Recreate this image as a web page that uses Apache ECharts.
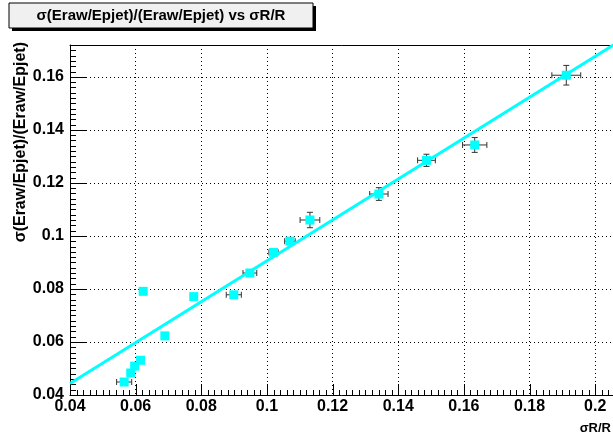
<!DOCTYPE html>
<html>
<head>
<meta charset="utf-8">
<script src="https://cdn.jsdelivr.net/npm/echarts@6/dist/echarts.min.js"></script>
<style>
html,body{margin:0;padding:0;background:#fff;}
#c{width:613px;height:441px;}
</style>
</head>
<body>
<div id="c"></div>
<script>
// Data
const xVals = [0.0565, 0.0585, 0.0597, 0.0615, 0.0623, 0.0689, 0.0777, 0.0899, 0.0948, 0.1020, 0.1070, 0.1131, 0.1341, 0.1486, 0.1633, 0.1912];
const yVals = [0.0449, 0.0483, 0.0509, 0.0531, 0.0791, 0.0623, 0.0771, 0.0778, 0.0860, 0.0938, 0.0980, 0.1060, 0.1158, 0.1285, 0.1343, 0.1606];
const xErrs = [0.0023, 0.0008, 0.0008, 0.0008, 0.0008, 0.0008, 0.0010, 0.0023, 0.0021, 0.0014, 0.0016, 0.0030, 0.0028, 0.0027, 0.0037, 0.0044];
const yErrs = [0.0004, 0.0004, 0.0004, 0.0004, 0.0004, 0.0004, 0.0006, 0.0012, 0.0010, 0.0010, 0.0010, 0.0029, 0.0024, 0.0023, 0.0028, 0.0037];
const fitX = [0.04, 0.21];
const fitY = [0.0443, 0.1754];
// Axis ticks
const xMajorTicks = [0.04, 0.06, 0.08, 0.10, 0.12, 0.14, 0.16, 0.18, 0.20];
const yMajorTicks = [0.04, 0.06, 0.08, 0.10, 0.12, 0.14, 0.16];
const minorStep = 0.002;
const titleText = 'σ(Eraw/Epjet)/(Eraw/Epjet) vs σR/R';
const xTitle = 'σR/R';
const yTitle = 'σ(Eraw/Epjet)/(Eraw/Epjet)';

const X_MIN = 0.04, X_MAX = 0.21, Y_MIN = 0.04, Y_MAX = 0.172;

const points = xVals.map((x, i) => [x, yVals[i]]);
const errData = xVals.map((x, i) => [x, yVals[i], xErrs[i], yErrs[i]]);
const fitData = fitX.map((x, i) => [x, fitY[i]]);

// tick data: [value, axis(0=x,1=y), major(1)/minor(0)]
const tickData = [];
xMajorTicks.forEach(v => tickData.push([v, 0, 1]));
yMajorTicks.forEach(v => tickData.push([v, 1, 1]));
for (let k = 0; X_MIN + k * minorStep < X_MAX - 1e-9; k++) if (k % 10) tickData.push([+(X_MIN + k * minorStep).toFixed(4), 0, 0]);
for (let k = 0; Y_MIN + k * minorStep < Y_MAX - 1e-9; k++) if (k % 10) tickData.push([+(Y_MIN + k * minorStep).toFixed(4), 1, 0]);

const chart = echarts.init(document.getElementById('c'));
const FONT = 'Liberation Sans, Arial, sans-serif';

function renderErr(params, api) {
  const x = api.value(0), y = api.value(1), ex = api.value(2), ey = api.value(3);
  const l = api.coord([x - ex, y]), r = api.coord([x + ex, y]);
  const t = api.coord([x, y + ey]), b = api.coord([x, y - ey]);
  const cap = 3;
  const st = {stroke: '#333', lineWidth: 1};
  return {
    type: 'group',
    children: [
      {type: 'line', shape: {x1: l[0], y1: l[1], x2: r[0], y2: r[1]}, style: st},
      {type: 'line', shape: {x1: l[0], y1: l[1] - cap, x2: l[0], y2: l[1] + cap}, style: st},
      {type: 'line', shape: {x1: r[0], y1: r[1] - cap, x2: r[0], y2: r[1] + cap}, style: st},
      {type: 'line', shape: {x1: t[0], y1: t[1], x2: b[0], y2: b[1]}, style: st},
      {type: 'line', shape: {x1: t[0] - cap, y1: t[1], x2: t[0] + cap, y2: t[1]}, style: st},
      {type: 'line', shape: {x1: b[0] - cap, y1: b[1], x2: b[0] + cap, y2: b[1]}, style: st}
    ]
  };
}

function renderTick(params, api) {
  const v = api.value(0), axis = api.value(1), major = api.value(2);
  const st = {stroke: '#000', lineWidth: 1};
  if (axis === 0) {
    const p = api.coord([v, Y_MIN]);
    const len = major ? 11 : 5;
    const xx = Math.round(p[0]) + 0.5;
    return {type: 'line', shape: {x1: xx, y1: p[1], x2: xx, y2: p[1] - len}, style: st};
  } else {
    const p = api.coord([X_MIN, v]);
    const len = major ? 16 : 6;
    const yy = Math.round(p[1]) + 0.5;
    return {type: 'line', shape: {x1: p[0], y1: yy, x2: p[0] + len, y2: yy}, style: st};
  }
}

chart.setOption({
  animation: false,
  grid: {left: 70, top: 45, width: 558, height: 350, show: false, outerBoundsMode: 'none'},
  xAxis: [{
    type: 'value', min: X_MIN, max: X_MAX, interval: 0.02,
    axisLine: {show: true, lineStyle: {color: '#000', width: 1}},
    axisTick: {show: false},
    splitLine: {show: true, lineStyle: {color: '#000', type: [1, 3], width: 1}},
    axisLabel: {color: '#000', fontFamily: FONT, fontWeight: 'bold', fontSize: 16, margin: 4, showMaxLabel: false}
  }, {
    type: 'value', position: 'top', min: X_MIN, max: X_MAX,
    axisLine: {show: true, lineStyle: {color: '#000', width: 1}},
    axisTick: {show: false}, axisLabel: {show: false}, splitLine: {show: false}
  }],
  yAxis: {
    type: 'value', min: Y_MIN, max: Y_MAX, interval: 0.02,
    axisLine: {show: true, lineStyle: {color: '#000', width: 1}},
    axisTick: {show: false},
    splitLine: {show: true, lineStyle: {color: '#000', type: [1, 3], width: 1}},
    axisLabel: {color: '#000', fontFamily: FONT, fontWeight: 'bold', fontSize: 16, margin: 6, showMaxLabel: false}
  },
  series: [
    {type: 'custom', renderItem: renderTick, data: tickData, z: 1, clip: false, silent: true},
    {type: 'custom', renderItem: renderErr, data: errData, z: 2, clip: true},
    {type: 'scatter', data: points, symbol: 'rect', symbolSize: 9, itemStyle: {color: '#00ffff', opacity: 1}, z: 3},
    {type: 'line', data: fitData, symbol: 'none', lineStyle: {color: '#00ffff', width: 3}, clip: true, z: 4}
  ],
  graphic: [
    {type: 'rect', shape: {x: 12, y: 6, width: 304, height: 25}, style: {fill: '#000'}, z: 10},
    {type: 'rect', shape: {x: 9, y: 3, width: 304, height: 25}, style: {fill: '#f0f0f0', stroke: '#000', lineWidth: 1}, z: 11},
    {type: 'text', x: 161, y: 16, z: 12, style: {text: titleText, fill: '#000', font: 'bold 15px ' + FONT, textAlign: 'center', textVerticalAlign: 'middle'}},
    {type: 'text', x: 611, y: 428, z: 12, style: {text: xTitle, fill: '#000', font: 'bold 13px ' + FONT, textAlign: 'right', textVerticalAlign: 'middle'}},
    {type: 'text', x: 21, y: 42, rotation: Math.PI / 2, z: 12, style: {text: yTitle, fill: '#000', font: 'bold 16px ' + FONT, textAlign: 'right', textVerticalAlign: 'middle'}}
  ]
});
</script>
</body>
</html>
